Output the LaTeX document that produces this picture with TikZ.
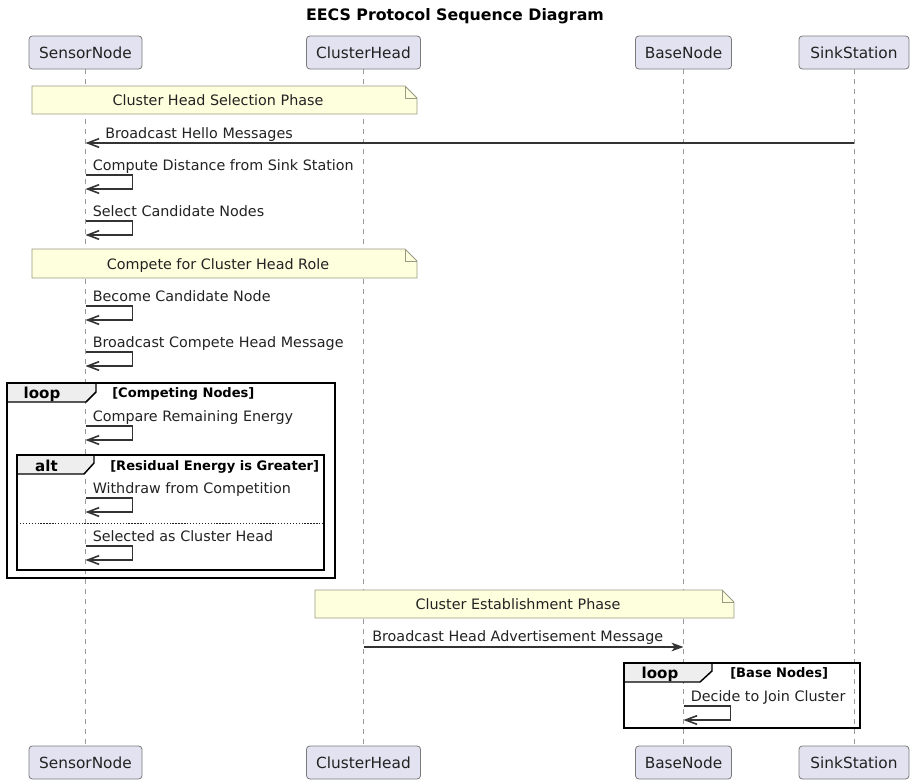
\documentclass[tikz,border=0pt]{standalone}
\usepackage{fontspec}
\setmainfont{DejaVu Sans}
\usetikzlibrary{arrows.meta}
\definecolor{partfill}{HTML}{E2E2F0}
\definecolor{partdraw}{HTML}{7A7A7A}
\definecolor{notefill}{HTML}{FEFFDD}
\definecolor{notedraw}{HTML}{9A9A84}
\definecolor{lifegray}{HTML}{9A9A9A}
\definecolor{tabfill}{HTML}{EEEEEE}
\definecolor{ink}{HTML}{222222}
\definecolor{wire}{HTML}{333333}

% self-call: #1 label name, #2 lifeline node, #3 top y of the loop, #4 label text
\newcommand\selfmsg[4]{%
  \draw[msg] (#2 |- 0,#3) -- ++(47,0) -- ++(0,14) -- ++(-47,0);
  \path (#2 |- 0,#3) ++(7,-5) node[msgtext] (#1) {#4};
}

\begin{document}
\begin{tikzpicture}[x=0.75pt,y=-0.75pt,
  part/.style={draw=partdraw, fill=partfill, rounded corners=2.5pt, line width=0.6pt,
    minimum height=24.75pt, inner sep=0pt, font=\fontsize{11.5}{13}\selectfont, text=ink},
  life/.style={draw=lifegray, line width=0.7pt, dash pattern=on 3.75pt off 3.75pt},
  msg/.style={draw=wire, line width=0.9pt,
    -{Straight Barb[length=8.5pt,width=6.5pt,line width=1.2pt]}},
  msgfilled/.style={draw=wire, line width=0.9pt,
    -{Stealth[length=9pt,width=6.5pt,inset=2.5pt]}},
  msgtext/.style={font=\fontsize{10.75}{12.8}\selectfont, text=ink, inner sep=0pt, anchor=base west},
  notebox/.style={fill=notefill, draw=notedraw, line width=0.6pt},
  notetext/.style={font=\fontsize{10.75}{12.8}\selectfont, text=ink, inner sep=0pt, anchor=base},
  frame/.style={draw=black, line width=1.4pt},
  tab/.style={fill=tabfill, draw=black, line width=1.1pt},
  framelabel/.style={font=\bfseries\fontsize{11.3}{13}\selectfont, inner sep=0pt, anchor=base},
  guard/.style={font=\bfseries\fontsize{9.8}{11.5}\selectfont, inner sep=0pt, anchor=base west},
]
\useasboundingbox (0,0) rectangle (910,779);

% title
\node[font=\bfseries\fontsize{11.85}{14}\selectfont, text=black, anchor=base, inner sep=0pt]
  (title) at (455,20) {EECS Protocol Sequence Diagram};

% participants, top and bottom
\node[part, minimum width=84.75pt] (sensT) at (85.5,52.5) {SensorNode};
\node[part, minimum width=85.5pt]  (headT) at (363.5,52.5) {ClusterHead};
\node[part, minimum width=72pt]    (baseT) at (683.5,52.5) {BaseNode};
\node[part, minimum width=82.5pt]  (sinkT) at (854,52.5) {SinkStation};
\node[part, minimum width=84.75pt] (sensB) at (85.5,762.5) {SensorNode};
\node[part, minimum width=85.5pt]  (headB) at (363.5,762.5) {ClusterHead};
\node[part, minimum width=72pt]    (baseB) at (683.5,762.5) {BaseNode};
\node[part, minimum width=82.5pt]  (sinkB) at (854,762.5) {SinkStation};

% lifelines
\draw[life] (sensT.south) -- (sensB.north);
\draw[life] (headT.south) -- (headB.north);
\draw[life] (baseT.south) -- (baseB.north);
\draw[life] (sinkT.south) -- (sinkB.north);

% note: cluster head selection
\filldraw[notebox] (32,86) -- (405,86) -- (417,98) -- (417,114) -- (32,114) -- cycle;
\draw[notebox, fill=none] (405,86) -- (405,98) -- (417,98);
\node[notetext] (n1) at (218,105) {Cluster Head Selection Phase};

\draw[msg] (sinkT |- 0,143) -- (sensT |- 0,143);
\node[msgtext] (m1) at (105,138) {Broadcast Hello Messages};

\selfmsg{m2}{sensT}{175}{Compute Distance from Sink Station}
\selfmsg{m3}{sensT}{221}{Select Candidate Nodes}

% note: competition
\filldraw[notebox] (32,249) -- (405,249) -- (417,261) -- (417,278) -- (32,278) -- cycle;
\draw[notebox, fill=none] (405,249) -- (405,261) -- (417,261);
\node[notetext] (n2) at (218,269) {Compete for Cluster Head Role};

\selfmsg{m4}{sensT}{306}{Become Candidate Node}
\selfmsg{m5}{sensT}{352}{Broadcast Compete Head Message}

% loop over competing nodes
\filldraw[tab] (7,383) -- (96,383) -- (96,392) -- (86,402) -- (7,402) -- cycle;
\draw[frame] (7,383) rectangle (335,578);
\node[framelabel] (loopA) at (42,398) {loop};
\node[guard] (gA) at (112,397) {[Competing Nodes]};

\selfmsg{m6}{sensT}{426}{Compare Remaining Energy}

% alternative inside the loop
\filldraw[tab] (17,455) -- (94,455) -- (94,463) -- (84,474) -- (17,474) -- cycle;
\draw[frame] (17,455) rectangle (324,570);
\node[framelabel] (altA) at (46.5,471) {alt};
\node[guard] (gB) at (110,470) {[Residual Energy is Greater]};

\selfmsg{m7}{sensT}{498}{Withdraw from Competition}
\draw[ink, line width=0.6pt, dash pattern=on 1pt off 1.2pt] (17,523) -- (324,523);
\selfmsg{m8}{sensT}{546}{Selected as Cluster Head}

% note: establishment
\filldraw[notebox] (315,590) -- (722,590) -- (734,602) -- (734,618) -- (315,618) -- cycle;
\draw[notebox, fill=none] (722,590) -- (722,602) -- (734,602);
\node[notetext] (n3) at (518,609) {Cluster Establishment Phase};

\draw[msgfilled] (headT |- 0,647) -- (baseT |- 0,647);
\node[msgtext] (m9) at (372,641) {Broadcast Head Advertisement Message};

% loop over base nodes
\filldraw[tab] (624,663) -- (712,663) -- (712,671) -- (700,682) -- (624,682) -- cycle;
\draw[frame] (624,663) rectangle (860,728);
\node[framelabel] (loopB) at (660,678) {loop};
\node[guard] (gC) at (730,677) {[Base Nodes]};

\selfmsg{m10}{baseT}{706}{Decide to Join Cluster}

\end{tikzpicture}
\end{document}
